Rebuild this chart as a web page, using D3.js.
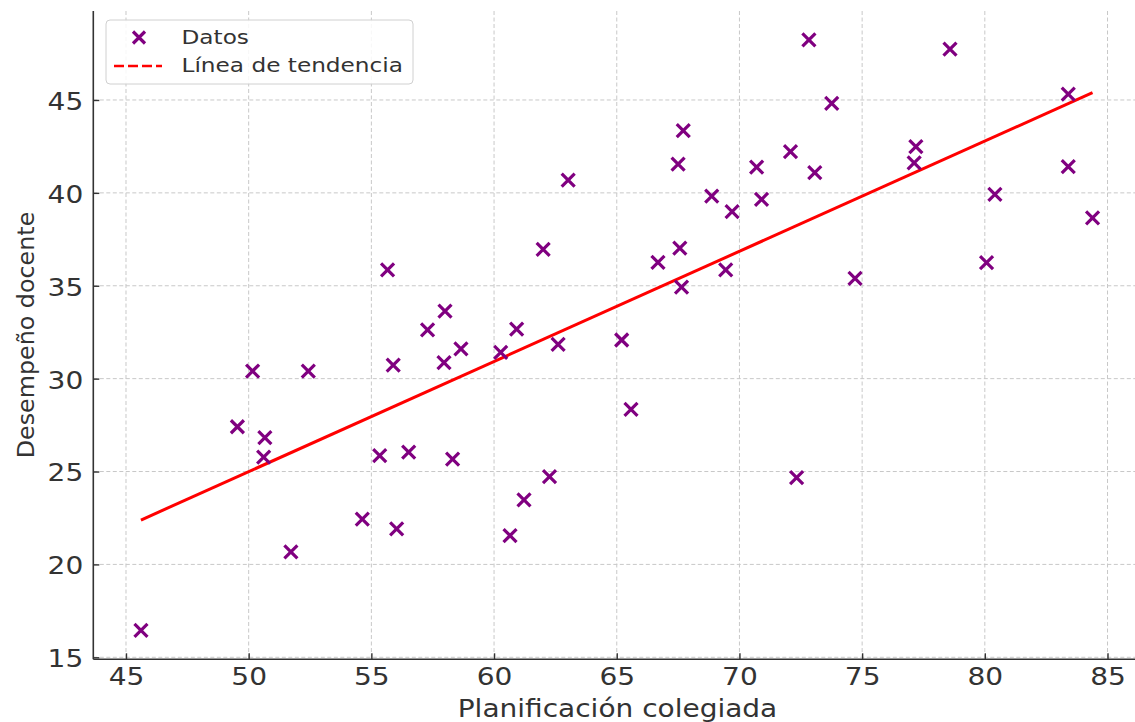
<!DOCTYPE html>
<html>
<head>
<meta charset="utf-8">
<script src="https://cdn.jsdelivr.net/npm/d3@7"></script>
<style>
  html, body { margin: 0; padding: 0; background: #fff; }
  svg { display: block; }
  text { font-family: "DejaVu Sans", sans-serif; fill: #333; }
</style>
</head>
<body>
<svg id="chart" width="1135" height="722"></svg>
<script>
// ---- data ----
const planificacion = [45.61, 49.54, 50.16, 50.66, 50.61, 51.72, 52.43, 54.63, 55.34, 55.66,
  55.89, 56.03, 56.52, 57.29, 58.00, 57.96, 58.31, 58.65, 60.27, 60.65,
  60.92, 61.22, 62.00, 62.26, 62.61, 63.02, 65.20, 65.58, 66.68, 67.50,
  67.57, 67.64, 67.71, 68.87, 69.44, 69.70, 70.70, 70.90, 72.08, 72.33,
  72.83, 73.07, 73.76, 74.71, 77.12, 77.19, 78.58, 80.07, 80.41, 83.40,
  83.40, 84.39];
const desempeno = [16.45, 27.41, 30.41, 26.82, 25.78, 20.68, 30.41, 22.44, 25.85, 35.85,
  30.73, 21.91, 26.05, 32.62, 33.64, 30.86, 25.67, 31.60, 31.42, 21.55,
  32.67, 23.47, 36.96, 24.72, 31.85, 40.69, 32.08, 28.35, 36.26, 41.55,
  37.02, 34.92, 43.35, 39.83, 35.86, 38.99, 41.38, 39.65, 42.22, 24.67,
  48.23, 41.09, 44.82, 35.40, 41.62, 42.49, 47.74, 36.24, 39.92, 41.41,
  45.31, 38.66];
const trendX = [45.61, 84.39];
const trendY = [22.39, 45.39];
const xTicks = [45, 50, 55, 60, 65, 70, 75, 80, 85];
const yTicks = [15, 20, 25, 30, 35, 40, 45];
const legendLabels = ["Datos", "Línea de tendencia"];
const xLabel = "Planificación colegiada";
const yLabel = "Desempeño docente";

// ---- layout ----
const pLeft = 93.3, pRight = 1135, pTop = 11, pBottom = 659.3;
const sx = 1.1; // horizontal text stretch of the reference
const tickFont = 25.5, legendFont = 19.5;

const svg = d3.select("#chart");
const x = d3.scaleLinear().domain([43.668, 86.12]).range([pLeft, pRight]);
const y = d3.scaleLinear().domain([14.892, 49.79]).range([pBottom, pTop]);

// grid
const grid = svg.append("g").attr("stroke", "#c8c8c8").attr("stroke-width", 1)
  .attr("stroke-dasharray", "4,2.5");
grid.selectAll("line.v").data(xTicks).join("line").attr("class", "v")
  .attr("x1", d => x(d)).attr("x2", d => x(d)).attr("y1", pTop).attr("y2", pBottom);
grid.selectAll("line.h").data(yTicks).join("line").attr("class", "h")
  .attr("x1", pLeft).attr("x2", pRight).attr("y1", d => y(d)).attr("y2", d => y(d));

// axes
const xAxis = d3.axisBottom(x).tickValues(xTicks).tickFormat(d3.format("d"))
  .tickSizeInner(-6).tickSizeOuter(0).tickPadding(7.5);
const gx = svg.append("g").attr("transform", `translate(0,${pBottom})`).call(xAxis);
const yAxis = d3.axisLeft(y).tickValues(yTicks).tickFormat(d3.format("d"))
  .tickSizeInner(-6).tickSizeOuter(0).tickPadding(10);
const gy = svg.append("g").attr("transform", `translate(${pLeft},0)`).call(yAxis);

[gx, gy].forEach(g => {
  g.select(".domain").attr("stroke", "#333").attr("stroke-width", 1.6);
  g.selectAll(".tick line").attr("stroke", "#333").attr("stroke-width", 1.4);
  g.selectAll(".tick text").attr("font-size", tickFont).attr("fill", "#333")
    .attr("font-family", "DejaVu Sans");
});
gx.selectAll(".tick text").attr("transform", `scale(${sx},1)`);
gy.selectAll(".tick text").attr("x", -10 / sx).attr("dy", "0.37em")
  .attr("transform", `scale(${sx},1)`);
gy.select(".domain").attr("d", `M0,${pTop}V${pBottom}`);
gx.select(".domain").attr("d", `M${pLeft},0H${pRight}`);

// trend line
svg.append("path")
  .datum(trendX.map((d, i) => [d, trendY[i]]))
  .attr("fill", "none").attr("stroke", "#ff0000").attr("stroke-width", 3)
  .attr("d", d3.line().x(d => x(d[0])).y(d => y(d[1])));

// points
const ms = 6.5;
const pts = svg.append("g").attr("stroke", "#800080").attr("stroke-width", 3.2)
  .attr("stroke-linecap", "butt");
const pdata = planificacion.map((d, i) => [d, desempeno[i]]);
pts.selectAll("path").data(pdata).join("path")
  .attr("d", d => {
    const cx = x(d[0]), cy = y(d[1]);
    return `M${cx - ms},${cy - ms}L${cx + ms},${cy + ms}M${cx - ms},${cy + ms}L${cx + ms},${cy - ms}`;
  });

// axis labels
svg.append("text").attr("transform", `translate(617.5,716.5) scale(1.12,1)`)
  .attr("text-anchor", "middle").attr("font-size", 25).text(xLabel);
svg.append("text").attr("transform", `translate(33.5,335) rotate(-90)`)
  .attr("text-anchor", "middle").attr("font-size", 23.8).text(yLabel);

// legend
const lg = svg.append("g");
lg.append("rect").attr("x", 106).attr("y", 20).attr("width", 307).attr("height", 64)
  .attr("rx", 4).attr("fill", "#fff").attr("fill-opacity", 0.85)
  .attr("stroke", "#d0d0d0").attr("stroke-width", 1);
const lm = 6, lcx = 139, lcy = 37.5;
lg.append("path").attr("stroke", "#800080").attr("stroke-width", 3.2)
  .attr("d", `M${lcx - lm},${lcy - lm}L${lcx + lm},${lcy + lm}M${lcx - lm},${lcy + lm}L${lcx + lm},${lcy - lm}`);
lg.append("line").attr("x1", 114).attr("x2", 162).attr("y1", 66).attr("y2", 66)
  .attr("stroke", "#ff0000").attr("stroke-width", 2.5).attr("stroke-dasharray", "10,4");
lg.selectAll("text").data(legendLabels).join("text")
  .attr("transform", (d, i) => `translate(181.5,${43.5 + i * 28.5}) scale(1.19,1)`)
  .attr("font-size", legendFont).text(d => d);
</script>
</body>
</html>
